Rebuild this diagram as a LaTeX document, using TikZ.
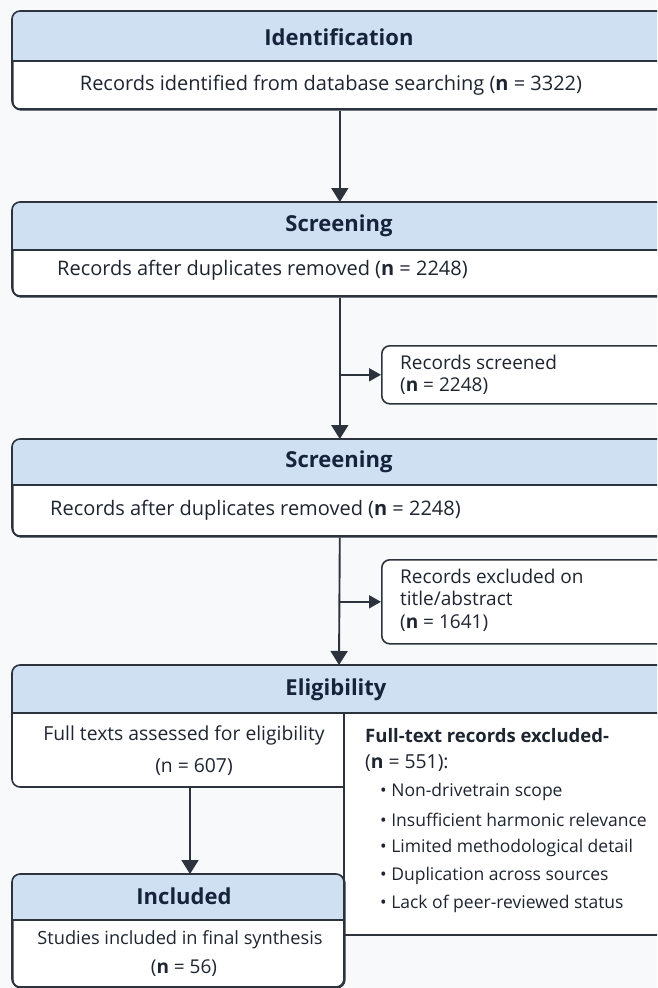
\documentclass[tikz,border=0pt]{standalone}
\usepackage{fontspec}
\setmainfont{Open Sans}
\usetikzlibrary{arrows.meta}
\definecolor{bg}{HTML}{F8F9FB}
\definecolor{head}{HTML}{CFE0F3}
\definecolor{edge}{HTML}{2D333C}
\definecolor{ink}{HTML}{1E2530}
\definecolor{hink}{HTML}{17233A}
\tikzset{
  boxline/.style={draw=edge, line width=1.6pt},
  frame/.style={boxline, fill=white, rounded corners=8pt, inner sep=0pt, anchor=north west},
  headtxt/.style={font=\bfseries\fontsize{22}{26}\selectfont, text=hink, inner sep=0pt},
  bodytxt/.style={font=\fontsize{20}{24}\selectfont, text=ink, inner sep=0pt},
  sidetxt/.style={font=\fontsize{19}{22.5}\selectfont, text=ink, inner sep=0pt, anchor=west, align=left},
  bullettxt/.style={font=\fontsize{17.5}{21}\selectfont, text=ink, inner sep=0pt, anchor=west},
  conn/.style={draw=edge, line width=1.9pt},
  arr/.style={conn, -{Triangle[length=14pt,width=17pt]}},
  sarr/.style={conn, -{Triangle[length=12pt,width=13pt]}},
}
\newcommand\mkstage[6]{%
  \node[frame, minimum width={(#4-#2)*1pt}, minimum height={(#5-#3)*1pt}] (#1) at (#2,#3) {};
  \begin{scope}
    \clip[rounded corners=8pt] (#2,#3) rectangle (#4,#5);
    \fill[head] (#2,#3) rectangle (#4,#6);
  \end{scope}
  \draw[boxline] (#2,#6) -- (#4,#6);
  \draw[boxline, rounded corners=8pt] (#2,#3) rectangle (#4,#5);
}
\begin{document}
\begin{tikzpicture}[x=1pt,y=-1pt]
\fill[bg] (0,0) rectangle (657,988);
\useasboundingbox (0,0) rectangle (657,988);
\clip (0,0) rectangle (657,988);

% stage boxes
\mkstage{idbox}{12}{11}{666}{109}{61}
\mkstage{scra}{12}{202}{666}{296}{250}
\mkstage{scrb}{12}{439}{666}{536}{485}

% side boxes
\node[frame, minimum width=320pt, minimum height=58pt] (scrn) at (381,345) {};
\node[frame, minimum width=320pt, minimum height=84pt] (excl) at (381,559) {};

% eligibility block
\fill[white, rounded corners=8pt] (12,665) rectangle (666,787);
\fill[white] (344,713) rectangle (666,935);
\begin{scope}
  \clip[rounded corners=8pt] (12,665) rectangle (666,787);
  \fill[head] (12,665) rectangle (666,713);
\end{scope}
\draw[boxline, rounded corners=8pt] (344,787) -- (12,787) -- (12,665) -- (666,665) -- (666,935);
\draw[boxline] (12,713) -- (666,713);
\draw[boxline] (344,713) -- (344,935) -- (666,935);
\coordinate (eligtop) at (339,665);
\node[inner sep=0pt, minimum width=332pt, minimum height=74pt, anchor=north west] (ftbox) at (12,713) {};

% included
\mkstage{incl}{12}{874}{344}{987}{920}
\coordinate (ax) at (190,0);

% texts
\node[headtxt] (t1) at (339,37) {Identification};
\node[bodytxt] (b1) at (331,85) {Records identified from database searching (\textbf{n} = 3322)};
\node[headtxt] (t2) at (339,226) {Screening};
\node[bodytxt, anchor=west] (b2) at (57,270) {Records after duplicates removed (\textbf{n} = 2248)};
\node[sidetxt] (s1) at (400,375) {Records screened\\(\textbf{n} = 2248)};
\node[headtxt] (t3) at (339,462) {Screening};
\node[bodytxt, anchor=west] (b3) at (50,510) {Records after duplicates removed (\textbf{n} = 2248)};
\node[sidetxt] (s2) at (400,600) {Records excluded on\\title/abstract\\(\textbf{n} = 1641)};
\node[headtxt] (t4) at (336,690) {Eligibility};
\node[bodytxt, font=\fontsize{19.3}{23}\selectfont] (b4a) at (184,735) {Full texts assessed for eligibility};
\node[bodytxt, font=\fontsize{19.3}{23}\selectfont] (b4b) at (194,767) {(n = 607)};
\node[bodytxt, anchor=west, font=\bfseries\fontsize{18.5}{22}\selectfont] (r1) at (365,736) {Full-text records excluded-};
\node[bodytxt, anchor=west, font=\fontsize{19.3}{23}\selectfont] (r2) at (365,763) {(\textbf{n} = 551):};
\node[bullettxt] (r3) at (380,792) {\textbullet\ Non-drivetrain scope};
\node[bullettxt] (r4) at (380,820) {\textbullet\ Insufficient harmonic relevance};
\node[bullettxt] (r5) at (380,848) {\textbullet\ Limited methodological detail};
\node[bullettxt] (r6) at (380,876) {\textbullet\ Duplication across sources};
\node[bullettxt] (r7) at (380,904) {\textbullet\ Lack of peer-reviewed status};
\node[headtxt] (t5) at (184,896) {Included};
\node[bodytxt, font=\fontsize{18.2}{22}\selectfont] (b5a) at (180,940) {Studies included in final synthesis};
\node[bodytxt, font=\fontsize{19}{22}\selectfont] (b5b) at (184,968) {(\textbf{n} = 56)};

% connectors
\draw[arr] (idbox.south) -- (scra.north);
\draw[arr] (scra.south) -- (scrb.north);
\draw[sarr] (scra.south |- scrn.west) -- (scrn.west);
\draw[arr] (scrb.south) -- (eligtop);
\draw[sarr] (scrb.south |- excl.west) -- (excl.west);
\draw[arr] (ftbox.south -| ax) -- (incl.north -| ax);
\end{tikzpicture}
\end{document}
